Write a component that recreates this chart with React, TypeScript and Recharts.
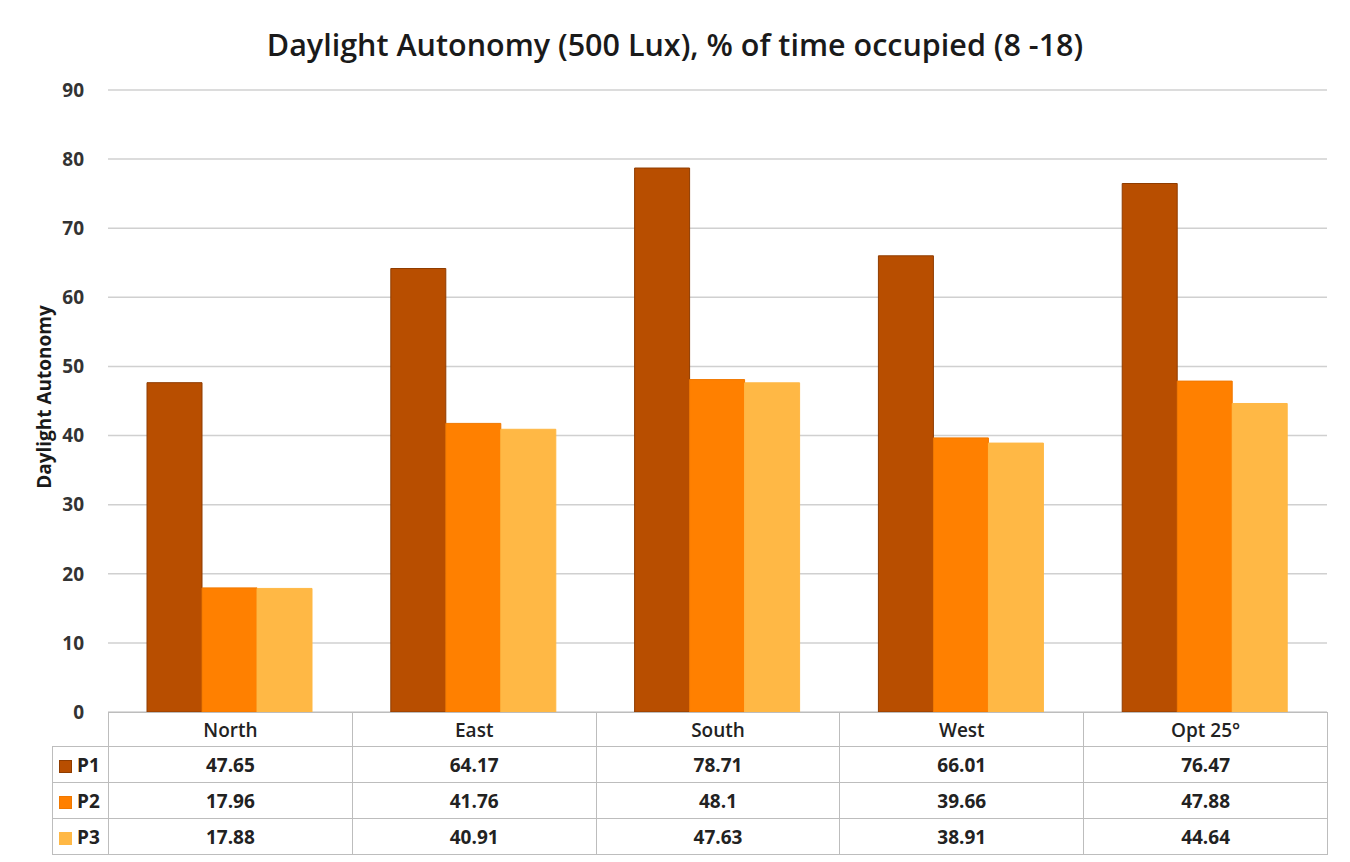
import React from 'react';
import { BarChart, Bar, XAxis, YAxis, CartesianGrid } from 'recharts';

const categories = ['North', 'East', 'South', 'West', 'Opt 25°'];
const p1 = [47.65, 64.17, 78.71, 66.01, 76.47];
const p2 = [17.96, 41.76, 48.1, 39.66, 47.88];
const p3 = [17.88, 40.91, 47.63, 38.91, 44.64];
const yTicks = [0, 10, 20, 30, 40, 50, 60, 70, 80, 90];

const seriesInfo = [
  { key: 'P1', values: p1, fill: '#B84E00', stroke: '#8F3C00' },
  { key: 'P2', values: p2, fill: '#FF8000', stroke: '#F07800' },
  { key: 'P3', values: p3, fill: '#FFB845', stroke: '#FFB845' },
];

const data = categories.map((name, i) => ({ name, P1: p1[i], P2: p2[i], P3: p3[i] }));

const FONT = '"Open Sans", "Noto Sans", sans-serif';
const W = 1350;
const H = 862;
const plotLeft = 108;
const plotRight = 1327;
const plotTop = 90;
const plotBottom = 712;
const tableLeft = 52;
const colW = (plotRight - plotLeft) / categories.length;
const gridColor = '#D0D0D0';
const tableBorder = '#BDBDBD';

export default function App() {
  return (
    <div style={{ position: 'absolute', left: 0, top: 0, width: W, height: H, background: '#fff', fontFamily: FONT }}>
      <div style={{ position: 'absolute', left: 0, top: 22, width: W, textAlign: 'center', fontSize: 30.5, fontWeight: 600, color: '#1a1a1a', lineHeight: '44px' }}>
        Daylight Autonomy (500 Lux), % of time occupied (8 -18)
      </div>
      <div
        style={{
          position: 'absolute', left: 44, top: (plotTop + plotBottom) / 2 - 4, transform: 'translate(-50%, -50%) rotate(-90deg)',
          fontSize: 19, fontWeight: 700, color: '#1a1a1a', whiteSpace: 'nowrap',
        }}
      >
        Daylight Autonomy
      </div>
      <div style={{ position: 'absolute', left: 0, top: 0 }}>
        <BarChart
          width={W}
          height={H}
          data={data}
          margin={{ top: plotTop, right: W - plotRight, bottom: H - plotBottom, left: 0 }}
          barCategoryGap="16%"
          barGap={0}
        >
          <CartesianGrid vertical={false} stroke={gridColor} strokeWidth={1.5} />
          <XAxis dataKey="name" hide />
          <YAxis
            width={plotLeft}
            domain={[0, 90]}
            ticks={yTicks}
            axisLine={false}
            tickLine={false}
            tickMargin={18}
            tick={{ fill: '#333', fontSize: 19, fontWeight: 700, fontFamily: FONT }}
          />
          {seriesInfo.map((s) => (
            <Bar key={s.key} dataKey={s.key} fill={s.fill} stroke={s.stroke} strokeWidth={1} isAnimationActive={false} />
          ))}
        </BarChart>
      </div>
      <table
        style={{
          position: 'absolute', left: tableLeft, top: plotBottom, width: plotRight - tableLeft, borderCollapse: 'collapse',
          fontSize: 19, fontWeight: 700, color: '#222', tableLayout: 'fixed',
        }}
      >
        <colgroup>
          <col style={{ width: plotLeft - tableLeft }} />
          {categories.map((c) => (
            <col key={c} style={{ width: colW }} />
          ))}
        </colgroup>
        <tbody>
          <tr style={{ height: 34 }}>
            <td style={{ border: 'none', padding: 0 }} />
            {categories.map((c) => (
              <td key={c} style={{ border: `1.5px solid ${tableBorder}`, textAlign: 'center', padding: 0, fontWeight: 600 }}>
                {c}
              </td>
            ))}
          </tr>
          {seriesInfo.map((s) => (
            <tr key={s.key} style={{ height: 36 }}>
              <td style={{ border: `1.5px solid ${tableBorder}`, padding: '0 0 0 6px', whiteSpace: 'nowrap' }}>
                <span style={{ display: 'inline-block', width: 13, height: 13, background: s.fill, border: `1px solid ${s.stroke}`, marginRight: 5, verticalAlign: -1, boxSizing: 'border-box' }} />
                {s.key}
              </td>
              {s.values.map((v, i) => (
                <td key={i} style={{ border: `1.5px solid ${tableBorder}`, textAlign: 'center', padding: 0 }}>
                  {v}
                </td>
              ))}
            </tr>
          ))}
        </tbody>
      </table>
    </div>
  );
}
